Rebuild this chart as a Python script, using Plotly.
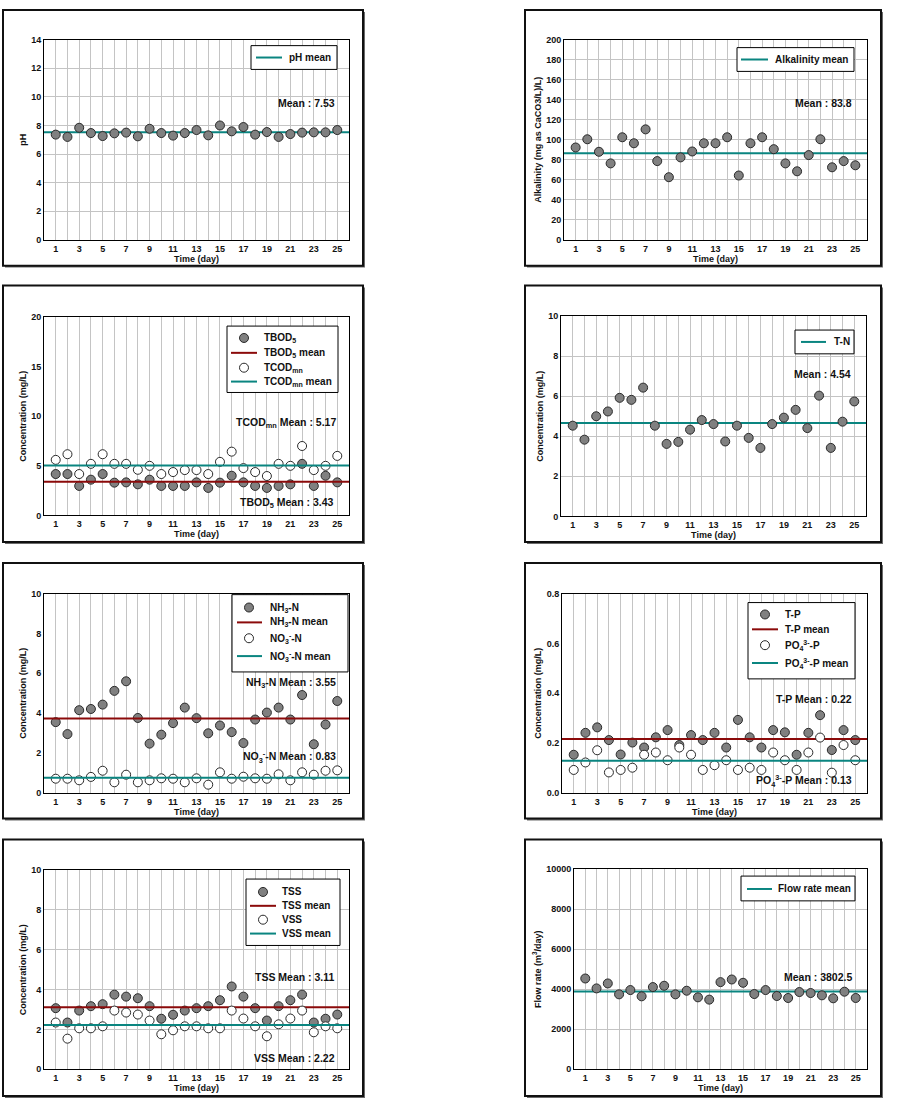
import plotly.graph_objects as go

W, H = 897, 1111

# ---------------- data ----------------
days = list(range(1, 26))
x_tick_text = [str(d) if d % 2 == 1 else "" for d in days]

ph = [7.36, 7.20, 7.84, 7.47, 7.26, 7.45, 7.50, 7.24, 7.77, 7.47, 7.29, 7.47, 7.68,
      7.31, 8.00, 7.59, 7.89, 7.36, 7.54, 7.20, 7.40, 7.50, 7.52, 7.52, 7.68]
ph_mean = 7.52

alkalinity = [92.3, 100.5, 88.0, 76.4, 102.5, 96.5, 110.4, 78.7, 62.6, 82.4, 88.3, 96.5, 96.5,
              102.5, 64.3, 96.5, 102.5, 90.6, 76.4, 68.5, 84.7, 100.5, 72.5, 78.7, 74.5]
alkalinity_mean = 86.6

tbod5 = [4.17, 4.17, 2.97, 3.60, 4.17, 3.30, 3.33, 3.13, 3.60, 2.97, 2.97, 2.97, 3.33,
         2.77, 3.30, 4.00, 3.33, 2.97, 2.77, 2.97, 3.13, 5.20, 2.97, 4.00, 3.33]
tbod5_mean = 3.40
tcodmn = [5.60, 6.17, 4.17, 5.20, 6.17, 5.20, 5.20, 4.60, 5.00, 4.17, 4.37, 4.57, 4.57,
          4.17, 5.40, 6.43, 4.77, 4.37, 3.97, 5.20, 5.00, 7.00, 4.57, 5.00, 6.00]
tcodmn_mean = 5.03

tn = [4.53, 3.83, 5.00, 5.24, 5.92, 5.82, 6.43, 4.53, 3.62, 3.72, 4.33, 4.81, 4.61,
      3.74, 4.53, 3.92, 3.42, 4.61, 4.93, 5.32, 4.41, 6.03, 3.42, 4.73, 5.74]
tn_mean = 4.66

nh3n = [3.55, 2.95, 4.15, 4.21, 4.43, 5.12, 5.60, 3.76, 2.47, 2.92, 3.50, 4.28, 3.75,
        2.99, 3.38, 3.05, 2.50, 3.68, 4.03, 4.28, 3.68, 4.91, 2.44, 3.43, 4.61]
nh3n_mean = 3.73
no3n = [0.71, 0.71, 0.63, 0.80, 1.11, 0.53, 0.91, 0.53, 0.63, 0.73, 0.71, 0.53, 0.73,
        0.41, 1.03, 0.71, 0.81, 0.73, 0.71, 0.93, 0.63, 1.03, 0.91, 1.11, 1.13]
no3n_mean = 0.76

tp = [0.153, 0.241, 0.263, 0.212, 0.154, 0.202, 0.182, 0.223, 0.252, 0.192, 0.232, 0.212, 0.241,
      0.182, 0.293, 0.223, 0.182, 0.252, 0.243, 0.153, 0.241, 0.312, 0.172, 0.252, 0.212]
tp_mean = 0.216
po4p = [0.092, 0.122, 0.171, 0.082, 0.092, 0.101, 0.153, 0.162, 0.131, 0.182, 0.153, 0.092, 0.111,
        0.131, 0.092, 0.101, 0.092, 0.162, 0.131, 0.092, 0.162, 0.222, 0.081, 0.192, 0.131]
po4p_mean = 0.129

tss = [3.07, 2.35, 2.95, 3.17, 3.27, 3.75, 3.65, 3.57, 3.17, 2.54, 2.74, 2.95, 3.07,
       3.17, 3.47, 4.16, 3.65, 3.07, 2.45, 3.17, 3.47, 3.75, 2.35, 2.54, 2.75]
tss_mean = 3.12
vss = [2.35, 1.54, 2.06, 2.06, 2.16, 2.95, 2.85, 2.75, 2.45, 1.76, 1.96, 2.16, 2.16,
       2.06, 2.06, 2.95, 2.55, 2.16, 1.66, 2.26, 2.55, 2.95, 1.86, 2.16, 2.06]
vss_mean = 2.22

flow = [4538, 4043, 4290, 3746, 3960, 3647, 4109, 4175, 3746, 3927, 3597, 3482, 4356,
        4488, 4323, 3762, 3960, 3663, 3564, 3861, 3812, 3696, 3548, 3878, 3564]
flow_mean = 3894

mean_labels = ["Mean : 7.53", "Mean : 83.8", "TCOD<sub>mn</sub> Mean : 5.17", "TBOD<sub>5</sub> Mean : 3.43",
               "Mean : 4.54", "NH<sub>3</sub>-N Mean : 3.55", "NO<sub>3</sub><sup>-</sup>-N Mean : 0.83",
               "T-P Mean : 0.22", "PO<sub>4</sub><sup>3-</sup>-P Mean : 0.13", "TSS Mean : 3.11",
               "VSS Mean : 2.22", "Mean : 3802.5"]

# ---------------- styling ----------------
FONT = "Liberation Sans, Arial, sans-serif"
GRAY = "#808080"
EDGE = "#2a2a2a"
TEAL = "#0a8580"
DRED = "#8b0a0a"
XR = [0, 26]
MSIZE = 9


def px_x(v):
    return v / W


def px_y(v):
    return 1 - v / H


fig = go.Figure()

# panel pixel boxes: left, right, top, bottom
panels = [
    dict(box=(44, 349, 35, 237), yr=[0, 14], dt=2, grid=True, fmt="", title="pH"),
    dict(box=(564, 867, 35, 237), yr=[0, 200], dt=20, grid=True, fmt="", title="Alkalinity (mg as CaCO3/L)/L)"),
    dict(box=(44, 349, 315, 515), yr=[0, 20], dt=5, grid=False, fmt="", title="Concentration (mg/L)"),
    dict(box=(561, 866, 314, 516), yr=[0, 10], dt=2, grid=True, fmt="", title="Concentration (mg/L)"),
    dict(box=(44, 349, 594, 795), yr=[0, 10], dt=2, grid=False, fmt="", title="Concentration (mg/L)"),
    dict(box=(562, 867, 594, 795), yr=[0, 0.8], dt=0.2, grid=False, fmt=".1f", title="Concentration (mg/L)"),
    dict(box=(44, 349, 873, 1074), yr=[0, 10], dt=2, grid=True, fmt="", title="Concentration (mg/L)"),
    dict(box=(574, 867, 872, 1074), yr=[0, 10000], dt=2000, grid=True, fmt="d", title="Flow rate (m<sup>3</sup>/day)"),
]

tickfont = dict(family=FONT, size=9, color="#111", weight="bold")
titlefont = dict(family=FONT, size=9, color="#111", weight="bold")

for i, p in enumerate(panels, start=1):
    l, r, t, b = p["box"]
    xa = "xaxis" if i == 1 else f"xaxis{i}"
    ya = "yaxis" if i == 1 else f"yaxis{i}"
    fig.layout[xa] = dict(
        domain=[px_x(l), px_x(r)], range=XR, tickmode="array", tickvals=days, ticktext=x_tick_text,
        showgrid=True, gridcolor="#c4c4c4", gridwidth=1, zeroline=False,
        showline=True, linecolor="black", linewidth=1, mirror=True, ticks="",
        tickfont=tickfont, title=dict(text="Time (day)", font=titlefont, standoff=1),
        anchor=f"y{i}" if i > 1 else "y", fixedrange=True,
    )
    fig.layout[ya] = dict(
        domain=[px_y(b), px_y(t)], range=p["yr"], dtick=p["dt"], tick0=0, tickformat=p["fmt"],
        showgrid=p["grid"], gridcolor="#c4c4c4", gridwidth=1, zeroline=False,
        showline=True, linecolor="black", linewidth=1, mirror=True, ticks="",
        tickfont=tickfont, title=dict(text=p["title"], font=titlefont, standoff=3),
        anchor=f"x{i}" if i > 1 else "x", fixedrange=True,
    )


def ax(i):
    return ("x" if i == 1 else f"x{i}"), ("y" if i == 1 else f"y{i}")


def dots(i, y, name, filled):
    xa, ya = ax(i)
    fig.add_trace(go.Scatter(
        x=days, y=y, mode="markers", name=name, showlegend=False, xaxis=xa, yaxis=ya,
        marker=dict(size=MSIZE, color=GRAY if filled else "white", line=dict(color=EDGE, width=1)),
    ))


def mean_line(i, m, name, color):
    xa, ya = ax(i)
    fig.add_trace(go.Scatter(
        x=XR, y=[m, m], mode="lines", name=name, showlegend=False, xaxis=xa, yaxis=ya,
        line=dict(color=color, width=2),
    ))


mean_line(1, ph_mean, "pH mean", TEAL)
dots(1, ph, "pH", True)
mean_line(2, alkalinity_mean, "Alkalinity mean", TEAL)
dots(2, alkalinity, "Alkalinity", True)
dots(3, tbod5, "TBOD<sub>5</sub>", True)
mean_line(3, tbod5_mean, "TBOD<sub>5</sub> mean", DRED)
dots(3, tcodmn, "TCOD<sub>mn</sub>", False)
mean_line(3, tcodmn_mean, "TCOD<sub>mn</sub> mean", TEAL)
mean_line(4, tn_mean, "T-N", TEAL)
dots(4, tn, "T-N data", True)
dots(5, nh3n, "NH<sub>3</sub>-N", True)
mean_line(5, nh3n_mean, "NH<sub>3</sub>-N mean", DRED)
dots(5, no3n, "NO<sub>3</sub><sup>-</sup>-N", False)
mean_line(5, no3n_mean, "NO<sub>3</sub><sup>-</sup>-N mean", TEAL)
dots(6, tp, "T-P", True)
mean_line(6, tp_mean, "T-P mean", DRED)
dots(6, po4p, "PO<sub>4</sub><sup>3-</sup>-P", False)
mean_line(6, po4p_mean, "PO<sub>4</sub><sup>3-</sup>-P mean", TEAL)
dots(7, tss, "TSS", True)
mean_line(7, tss_mean, "TSS mean", DRED)
dots(7, vss, "VSS", False)
mean_line(7, vss_mean, "VSS mean", TEAL)
mean_line(8, flow_mean, "Flow rate mean", TEAL)
dots(8, flow, "Flow rate", True)

# panel frames (drawn first, below everything)
cols = [(3, 363), (525, 881)]
rows = [(5, 263), (283, 542), (563, 821), (842, 1101)]
for (fl, fr) in cols:
    for (ft, fb) in rows:
        fig.add_shape(type="rect", xref="paper", yref="paper",
                      x0=px_x(fl + 2), x1=px_x(fr + 2), y0=px_y(fb + 2), y1=px_y(ft + 2),
                      fillcolor="#6a6a6a", line=dict(width=0), layer="below")
        fig.add_shape(type="rect", xref="paper", yref="paper",
                      x0=px_x(fl), x1=px_x(fr), y0=px_y(fb), y1=px_y(ft),
                      fillcolor="white", line=dict(color="#111", width=2), layer="below")

# custom legends: box (l, r, t, b), line x span, circle center x, text x, entries
legends = [
    dict(box=(251, 337, 41, 65), lx=(256, 282), cx=269, tx=287,
         items=[("line", TEAL, 53, "pH mean")]),
    dict(box=(737, 854, 43, 67), lx=(741, 768), cx=754, tx=773,
         items=[("line", TEAL, 55, "Alkalinity mean")]),
    dict(box=(227, 338, 324, 391), lx=(231, 257), cx=244, tx=262,
         items=[("dot", True, 336, "TBOD<sub>5</sub>"), ("line", DRED, 351, "TBOD<sub>5</sub> mean"),
                ("dot", False, 366, "TCOD<sub>mn</sub>"), ("line", TEAL, 380, "TCOD<sub>mn</sub> mean")]),
    dict(box=(795, 854, 328, 352), lx=(801, 826), cx=813, tx=832,
         items=[("line", TEAL, 340, "T-N")]),
    dict(box=(232, 348, 595, 673), lx=(237, 262), cx=249, tx=268,
         items=[("dot", True, 608, "NH<sub>3</sub>-N"), ("line", DRED, 623, "NH<sub>3</sub>-N mean"),
                ("dot", False, 639, "NO<sub>3</sub><sup>-</sup>-N"),
                ("line", TEAL, 657, "NO<sub>3</sub><sup>-</sup>-N mean")]),
    dict(box=(748, 855, 603, 680), lx=(752, 778), cx=765, tx=783,
         items=[("dot", True, 615, "T-P"), ("line", DRED, 630, "T-P mean"),
                ("dot", False, 646, "PO<sub>4</sub><sup>3-</sup>-P"),
                ("line", TEAL, 664, "PO<sub>4</sub><sup>3-</sup>-P mean")]),
    dict(box=(246, 340, 882, 949), lx=(250, 276), cx=263, tx=280,
         items=[("dot", True, 895, "TSS"), ("line", DRED, 909, "TSS mean"),
                ("dot", False, 923, "VSS"), ("line", TEAL, 937, "VSS mean")]),
    dict(box=(741, 855, 879, 904), lx=(747, 772), cx=759, tx=776,
         items=[("line", TEAL, 892, "Flow rate mean")]),
]

legfont = dict(family=FONT, size=10, color="#111", weight="bold")
for lg in legends:
    l, r, t, b = lg["box"]
    fig.add_shape(type="rect", xref="paper", yref="paper", x0=px_x(l), x1=px_x(r),
                  y0=px_y(b), y1=px_y(t), fillcolor="white", line=dict(color="black", width=1),
                  layer="above")
    for kind, style, y, txt in lg["items"]:
        if kind == "line":
            fig.add_shape(type="line", xref="paper", yref="paper", x0=px_x(lg["lx"][0]),
                          x1=px_x(lg["lx"][1]), y0=px_y(y), y1=px_y(y),
                          line=dict(color=style, width=2), layer="above")
        else:
            fig.add_shape(type="circle", xref="paper", yref="paper",
                          xsizemode="pixel", ysizemode="pixel",
                          xanchor=px_x(lg["cx"]), yanchor=px_y(y),
                          x0=-MSIZE / 2, x1=MSIZE / 2, y0=-MSIZE / 2, y1=MSIZE / 2,
                          fillcolor=GRAY if style else "white", line=dict(color=EDGE, width=1),
                          layer="above")
        fig.add_annotation(x=px_x(lg["tx"]), y=px_y(y), xref="paper", yref="paper", text=txt,
                           showarrow=False, xanchor="left", yanchor="middle", font=legfont)

# mean annotations (right x px, center y px)
note_pos = [(337, 99), (854, 99), (338, 422), (336, 503), (853, 372), (338, 684), (338, 759),
            (854, 700), (854, 783), (337, 981), (337, 1063), (854, 981)]
for (x, y), txt in zip(note_pos, mean_labels):
    fig.add_annotation(x=px_x(x), y=px_y(y), xref="paper", yref="paper", text=txt, showarrow=False,
                       xanchor="right", yanchor="middle",
                       font=dict(family=FONT, size=10.5, color="#111", weight="bold"))

fig.update_layout(
    width=W, height=H, autosize=False, showlegend=False,
    margin=dict(l=0, r=0, t=0, b=0, pad=0),
    paper_bgcolor="white", plot_bgcolor="white",
    font=dict(family=FONT, size=9, color="#111"),
)

fig.write_html("out.html", config={"displayModeBar": False},
               post_script="document.body.style.margin='0';document.body.style.overflow='hidden';")
